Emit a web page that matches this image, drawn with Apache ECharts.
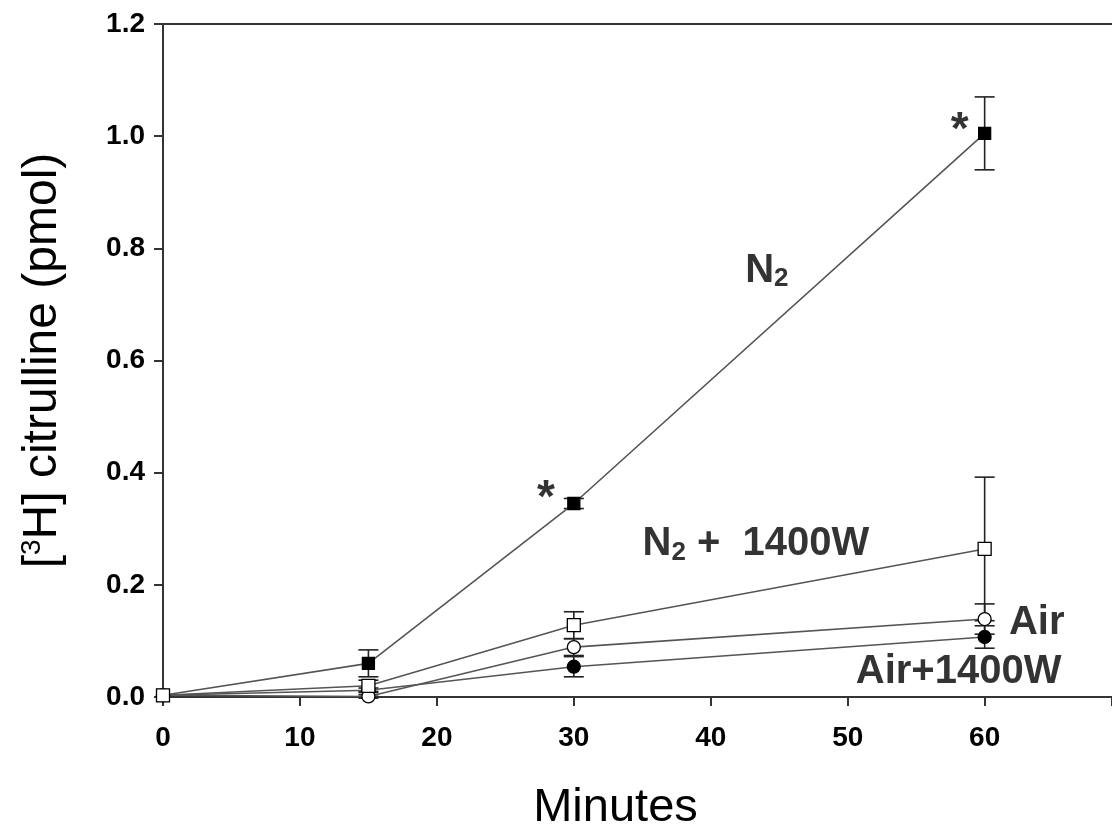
<!DOCTYPE html>
<html><head><meta charset="utf-8">
<script src="https://cdn.jsdelivr.net/npm/echarts@6/dist/echarts.min.js"></script>
<style>html,body{margin:0;padding:0;background:#fff}#c{width:1112px;height:832px}</style>
</head><body><div id="c"></div>
<script>
var minutes = [0, 15, 30, 60];
var n2 = [0.003, 0.060, 0.345, 1.005];
var n2Err = [0, 0.024, 0.009, 0.065];
var n2W = [0.003, 0.020, 0.128, 0.264];
var n2WErr = [0, 0.010, 0.024, 0.128];
var air = [0.003, 0.001, 0.089, 0.139];
var airErr = [0, 0.003, 0.015, 0.027];
var airW = [0.003, 0.012, 0.054, 0.107];
var airWErr = [0, 0.004, 0.018, 0.020];
var xTicks = [0, 10, 20, 30, 40, 50, 60];
var yTicks = ['0.0', '0.2', '0.4', '0.6', '0.8', '1.0', '1.2'];
var notes = [
  {x: 27.96, y: 0.352, t: '{a|*}'},
  {x: 58.18, y: 1.009, t: '{a|*}'},
  {x: 44.1, y: 0.76, t: '{b|N}{s|2}'},
  {x: 43.3, y: 0.272, t: '{b|N}{s|2}{b| +  1400W}'},
  {x: 63.8, y: 0.132, t: '{b|Air}'},
  {x: 58.1, y: 0.045, t: '{b|Air+1400W}'}
];

function pts(ys){ return minutes.map(function(m,i){ return [m, ys[i]]; }); }
function errs(ys, es){ return minutes.map(function(m,i){ return [m, ys[i]-es[i], ys[i]+es[i]]; }).filter(function(d){return d[2]-d[1]>0;}); }

function errSeries(ys, es){
  return {
    type: 'custom', z: 3,
    data: errs(ys, es),
    renderItem: function(params, api){
      var x = api.value(0);
      var lo = api.coord([x, api.value(1)]);
      var hi = api.coord([x, api.value(2)]);
      var w = 10;
      var st = {stroke: '#222', lineWidth: 1.6};
      return {type: 'group', children: [
        {type: 'line', shape: {x1: lo[0], y1: lo[1], x2: hi[0], y2: hi[1]}, style: st},
        {type: 'line', shape: {x1: lo[0]-w, y1: lo[1], x2: lo[0]+w, y2: lo[1]}, style: st},
        {type: 'line', shape: {x1: hi[0]-w, y1: hi[1], x2: hi[0]+w, y2: hi[1]}, style: st}
      ]};
    }
  };
}
function lineSeries(ys, symbol, fill, size){
  return {
    type: 'line', data: pts(ys), z: 4,
    symbol: symbol, symbolSize: size, showAllSymbol: true,
    lineStyle: {color: '#555', width: 1.6},
    itemStyle: {color: fill, borderColor: '#000', borderWidth: 1.3}
  };
}
var FF = 'Liberation Sans, Arial';
var chart = echarts.init(document.getElementById('c'));
chart.setOption({
  animation: false,
  backgroundColor: '#fff',
  grid: {left: 163, top: 24, bottom: 135, right: 0, outerBoundsMode: 'none', containLabel: false},
  xAxis: [{
    type: 'value', min: 0, max: 69.3, interval: 10,
    name: 'Minutes', nameLocation: 'middle', nameGap: 88,
    nameTextStyle: {fontFamily: FF, fontSize: 47, color: '#000', padding: [0, 44, 0, 0]},
    axisLine: {show: true, lineStyle: {color: '#333', width: 2}},
    axisTick: {show: true, length: 9, lineStyle: {color: '#333', width: 2}},
    splitLine: {show: false},
    axisLabel: {fontFamily: FF, fontSize: 28, fontWeight: 'bold', color: '#000', margin: 27,
      formatter: function(v){ return xTicks.indexOf(v) >= 0 ? String(v) : ''; }}
  }, {
    type: 'value', position: 'top', min: 0, max: 69.3,
    axisLine: {show: true, lineStyle: {color: '#333', width: 2}},
    axisTick: {show: false}, axisLabel: {show: false}, splitLine: {show: false}
  }],
  yAxis: {
    type: 'value', min: 0, max: 1.2, interval: 0.2,
    name: '[{sup|3}H] citrulline (pmol)', nameLocation: 'middle', nameGap: 95,
    nameTextStyle: {fontFamily: FF, fontSize: 48, color: '#000',
      rich: {sup: {fontFamily: FF, fontSize: 28, color: '#000', verticalAlign: 'top', padding: [0,0,22,0]}}},
    axisLine: {show: true, lineStyle: {color: '#333', width: 2}},
    axisTick: {show: true, length: 9, lineStyle: {color: '#333', width: 2}},
    splitLine: {show: false},
    axisLabel: {fontFamily: FF, fontSize: 28, fontWeight: 'bold', color: '#000', margin: 18,
      formatter: function(v){ var i = Math.round(v/0.2); return yTicks[i] || ''; }}
  },
  series: [
    errSeries(n2, n2Err), errSeries(n2W, n2WErr), errSeries(air, airErr), errSeries(airW, airWErr),
    lineSeries(airW, 'circle', '#000', 13),
    lineSeries(air, 'circle', '#fff', 13),
    lineSeries(n2, 'rect', '#000', 12),
    lineSeries(n2W, 'rect', '#fff', 13),
    {
      type: 'scatter', symbolSize: 0, z: 6,
      data: notes.map(function(n){ return {value: [n.x, n.y], label: {formatter: n.t}}; }),
      label: {show: true, position: 'inside', color: '#000',
        fontFamily: FF, fontSize: 40, fontWeight: 'bold',
        rich: {
          a: {fontFamily: FF, fontSize: 46, fontWeight: 'bold', color: '#000'},
          b: {fontFamily: FF, fontSize: 40, fontWeight: 'bold', color: '#000'},
          s: {fontFamily: FF, fontSize: 26, fontWeight: 'bold', color: '#000', verticalAlign: 'bottom', padding: [16,0,0,0]}
        }}
    }
  ]
});
</script></body></html>
